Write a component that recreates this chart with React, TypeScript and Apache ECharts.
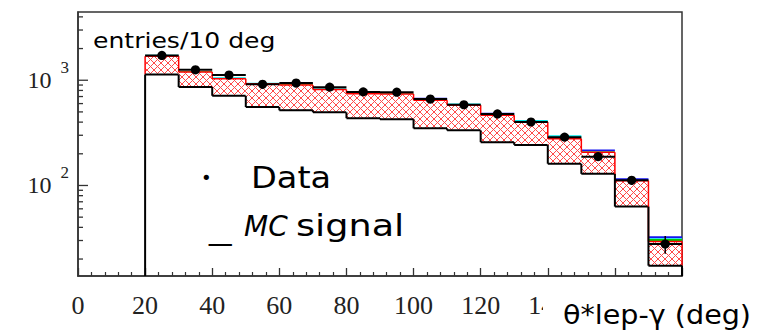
import React, { useEffect, useRef } from 'react';
import * as echarts from 'echarts';

// ---- data ----
const binEdges = [20, 30, 40, 50, 60, 70, 80, 90, 100, 110, 120, 130, 140, 150, 160, 170, 180];
const signalMC = [1133, 863, 712, 557, 518, 496, 436, 427, 349, 334, 258, 243, 161, 129, 63, 17.3];
const redBkgTop = [1693, 1195, 1035, 925, 900, 815, 746, 740, 645, 580, 464, 401, 278, 207, 111, 29.3];
const greenBkgTop = [1705, 1215, 1050, 932, 915, 822, 752, 750, 650, 585, 470, 405, 283, 210, 112, 31];
const cyanBkgTop = [1745, 1225, 1065, 948, 930, 838, 760, 755, 655, 600, 475, 420, 300, 212, 113, 31.5];
const blueBkgTop = [1745, 1225, 1065, 948, 930, 838, 760, 755, 680, 600, 490, 420, 300, 220, 117, 33];
const dataValues = [1720, 1255, 1120, 915, 940, 860, 775, 770, 662, 585, 478, 401, 288, 188, 112, 27.8];
const dataErrors = [41, 35, 33, 30, 31, 29, 28, 28, 26, 24, 22, 20, 17, 14, 11, 5.3];
const yMajorTicks = [100, 1000];
const yMajorExponents = ['2', '3'];
const yMinorTicks = [20, 30, 40, 50, 60, 70, 80, 90, 200, 300, 400, 500, 600, 700, 800, 900, 2000, 3000, 4000];
const yRange = [13.8, 4450];
const xRange = [0, 180];
const xInterval = 20;

const serif = '"Liberation Serif", "Times New Roman", serif';
const hand = '"DejaVu Sans", sans-serif';

function makeHatch() {
  const s = 7;
  const cv = document.createElement('canvas');
  cv.width = s;
  cv.height = s;
  const ctx = cv.getContext('2d')!;
  ctx.fillStyle = '#ffffff';
  ctx.fillRect(0, 0, s, s);
  ctx.strokeStyle = '#ff4a4a';
  ctx.lineWidth = 1;
  ctx.beginPath();
  ctx.moveTo(-1, -1);
  ctx.lineTo(s + 1, s + 1);
  ctx.moveTo(s + 1, -1);
  ctx.lineTo(-1, s + 1);
  ctx.stroke();
  return { image: cv, repeat: 'repeat', imageWidth: s, imageHeight: s };
}

export default function App() {
  const ref = useRef<HTMLDivElement>(null);

  useEffect(() => {
    if (!ref.current) return;
    const chart = echarts.init(ref.current, null, { renderer: 'svg' });
    const hatch = makeHatch();
    const yMin = yRange[0];

    const line = (p: number[], q: number[], stroke: string, lw: number) => ({
      type: 'line',
      shape: { x1: p[0], y1: p[1], x2: q[0], y2: q[1] },
      style: { stroke, lineWidth: lw },
    });

    const histRender = (params: any, api: any) => {
      const i = params.dataIndex;
      const x0 = binEdges[i];
      const x1 = binEdges[i + 1];
      const c = (x: number, v: number) => api.coord([x, v]);
      const band = (lo: number, hi: number, fill: any) => {
        const a = c(x0, hi);
        const b = c(x1, lo);
        return {
          type: 'rect',
          shape: { x: a[0], y: a[1], width: b[0] - a[0], height: b[1] - a[1] },
          style: { fill },
        };
      };
      const children: any[] = [];
      children.push(band(cyanBkgTop[i], blueBkgTop[i], '#1414f0'));
      children.push(band(greenBkgTop[i], cyanBkgTop[i], '#00e6e6'));
      children.push(band(redBkgTop[i], greenBkgTop[i], '#00c800'));
      children.push(band(signalMC[i], redBkgTop[i], hatch));
      const prevR = i === 0 ? signalMC[0] : redBkgTop[i - 1];
      children.push(line(c(x0, redBkgTop[i]), c(x1, redBkgTop[i]), '#ff0000', 1.5));
      children.push(line(c(x0, prevR), c(x0, redBkgTop[i]), '#ff0000', 1.5));
      if (i === binEdges.length - 2) {
        children.push(line(c(x1, redBkgTop[i]), c(x1, signalMC[i]), '#ff0000', 1.5));
      }
      const prevS = i === 0 ? yMin : signalMC[i - 1];
      children.push(line(c(x0, signalMC[i]), c(x1, signalMC[i]), '#000', 2));
      children.push(line(c(x0, prevS), c(x0, signalMC[i]), '#000', 2));
      if (i === binEdges.length - 2) {
        children.push(line(c(x1, signalMC[i]), c(x1, yMin), '#000', 2));
      }
      return { type: 'group', children };
    };

    const dataRender = (params: any, api: any) => {
      const i = params.dataIndex;
      const x0 = binEdges[i];
      const x1 = binEdges[i + 1];
      const xm = (x0 + x1) / 2;
      const c = (x: number, v: number) => api.coord([x, v]);
      const pc = c(xm, dataValues[i]);
      return {
        type: 'group',
        children: [
          line(c(x0, dataValues[i]), c(x1, dataValues[i]), '#000', 2),
          line(c(xm, dataValues[i] - dataErrors[i]), c(xm, dataValues[i] + dataErrors[i]), '#000', 1.5),
          { type: 'circle', shape: { cx: pc[0], cy: pc[1], r: 4.6 }, style: { fill: '#000' } },
        ],
      };
    };

    const yTickRender = (params: any, api: any) => {
      const isMajor = params.dataIndex < yMajorTicks.length;
      const v = isMajor ? yMajorTicks[params.dataIndex] : yMinorTicks[params.dataIndex - yMajorTicks.length];
      const len = isMajor ? 10 : 5;
      const p = api.coord([xRange[0], v]);
      return line([p[0], p[1]], [p[0] + len, p[1]], '#333', 1.3);
    };

    const bins = binEdges.slice(0, -1).map((e, i) => [(e + binEdges[i + 1]) / 2, dataValues[i]]);
    const yTickData = [...yMajorTicks, ...yMinorTicks].map((v) => [xRange[0], v]);

    const yLabel = (v: number) => {
      for (let k = 0; k < yMajorTicks.length; k++) {
        if (Math.abs(v - yMajorTicks[k]) / yMajorTicks[k] < 1e-6) {
          return '{b|10}{s|' + yMajorExponents[k] + '}';
        }
      }
      return '';
    };

    const txt = (text: string, x: number, y: number, size: number, sx: number, italic = false) => ({
      type: 'text',
      x,
      y,
      scaleX: sx,
      z: 101,
      style: {
        text,
        font: (italic ? 'italic ' : '') + size + 'px ' + hand,
        fill: '#000',
        textAlign: 'left',
        textVerticalAlign: 'middle',
        align: 'left',
        verticalAlign: 'middle',
      },
    });

    chart.setOption({
      animation: false,
      backgroundColor: '#ffffff',
      grid: {
        left: 78,
        right: 76,
        top: 12,
        bottom: 56,
        show: true,
        borderColor: '#333',
        borderWidth: 1.5,
        backgroundColor: 'transparent',
      },
      xAxis: {
        type: 'value',
        min: xRange[0],
        max: xRange[1],
        interval: xInterval,
        axisLine: { show: true, lineStyle: { color: '#333', width: 1.5 } },
        axisTick: { show: true, inside: true, length: 8, lineStyle: { color: '#333', width: 1.3 } },
        minorTick: { show: true, splitNumber: 5, length: 4, lineStyle: { color: '#333', width: 1.2 } },
        splitLine: { show: false },
        minorSplitLine: { show: false },
        axisLabel: { fontFamily: serif, fontSize: 26, color: '#222', margin: 16 },
      },
      yAxis: {
        type: 'log',
        logBase: 10,
        min: yRange[0],
        max: yRange[1],
        axisLine: { show: true, lineStyle: { color: '#333', width: 1.5 } },
        axisTick: { show: false },
        splitLine: { show: false },
        minorSplitLine: { show: false },
        axisLabel: {
          margin: 9,
          formatter: yLabel,
          showMinLabel: false,
          showMaxLabel: false,
          rich: {
            b: { fontFamily: serif, fontSize: 24, color: '#222', lineHeight: 42 },
            s: { fontFamily: serif, fontSize: 17, color: '#222', verticalAlign: 'top', padding: [0, 0, 0, 9] },
          },
        },
      },
      series: [
        { type: 'custom', name: 'stack', renderItem: histRender, data: bins, silent: true, z: 2, clip: false },
        { type: 'custom', name: 'Data', renderItem: dataRender, data: bins, silent: true, z: 4, clip: false },
        { type: 'custom', name: 'yticks', renderItem: yTickRender, data: yTickData, silent: true, z: 5, clip: false },
      ],
      graphic: [
        { type: 'rect', left: 543, top: 283, shape: { width: 215, height: 49 }, style: { fill: '#ffffff' }, z: 100 },
        txt('entries/10 deg', 93, 41, 22, 1.14),
        txt('•', 201, 177, 18, 1),
        txt('Data', 251, 178, 30, 1.12),
        txt('_', 209, 229, 30, 1.5),
        txt('MC', 244, 226, 28, 1.0, true),
        txt('signal', 296, 226, 30, 1.22),
        txt('θ*lep-γ (deg)', 563, 315, 26, 1.1),
      ],
    });

    return () => chart.dispose();
  }, []);

  return (
    <div
      ref={ref}
      style={{ position: 'absolute', left: 0, top: 0, width: 758, height: 332 }}
    />
  );
}
